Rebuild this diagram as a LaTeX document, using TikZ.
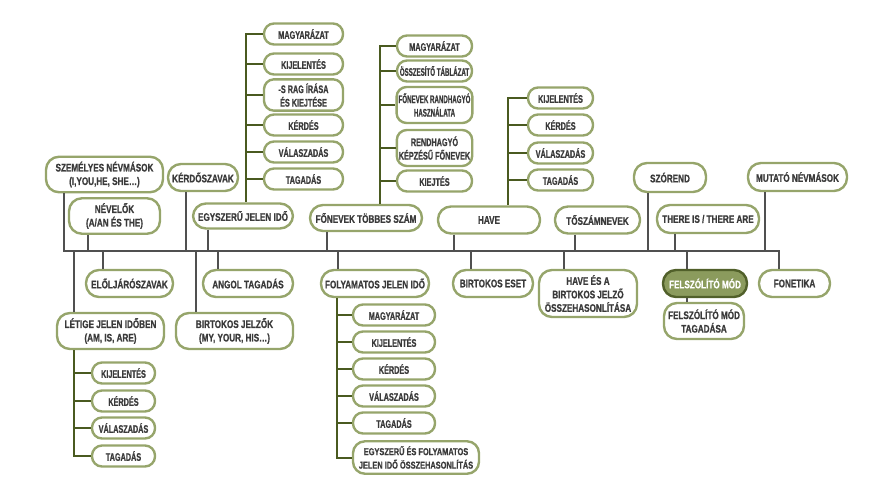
\documentclass[tikz,border=0pt]{standalone}
\usepackage{fontspec}
\newfontfamily\topfont[FakeStretch=0.74, FakeBold=0.8]{Liberation Sans Bold}
\newfontfamily\itemfont[FakeStretch=0.66, FakeBold=0.8]{Liberation Sans Bold}
\newfontfamily\narrowfont[FakeStretch=0.56, FakeBold=0.8]{Liberation Sans Bold}

\definecolor{boxgreen}{HTML}{96A56B}
\definecolor{twiggreen}{HTML}{4A5A20}
\definecolor{trunkgray}{HTML}{505050}
\definecolor{textgray}{HTML}{3A3A3A}
\definecolor{activefill}{HTML}{8B9B5D}
\definecolor{activeline}{HTML}{51602A}

\tikzset{
  topic/.style={draw=boxgreen, line width=2.4pt, fill=white, rounded corners=13pt,
    text=textgray, align=center, inner xsep=2pt, inner ysep=5pt,
    font=\topfont\fontsize{11}{13.5}\selectfont},
  subtopic/.style={topic, rounded corners=10pt, inner ysep=4pt, minimum height=21pt,
    font=\itemfont\fontsize{11}{13.5}\selectfont},
  plain/.style={},
  narrow/.style={font=\narrowfont\fontsize{11}{13.5}\selectfont},
  tall/.style={minimum height=36pt},
  narrowtall/.style={narrow, tall},
  smalltopic/.style={font=\topfont\fontsize{10}{13.5}\selectfont},
  chosen/.style={fill=activefill, draw=activeline, text=white},
  trunk/.style={draw=trunkgray, line width=1.6pt},
  twig/.style={draw=twiggreen, line width=2pt},
}

\begin{document}
\begin{tikzpicture}[x=1pt, y=-1pt]
  \def\spineY{251}
  \useasboundingbox (0,0) rectangle (888,500);

  % above the line
  \node[topic, minimum width=117pt, minimum height=35pt] (szem) at (104.5,174.5) {SZEMÉLYES NÉVMÁSOK\\(I,YOU,HE, SHE…)};
  \node[topic, minimum width=91pt, minimum height=34pt] (nev) at (114.5,216) {NÉVELŐK\\(A/AN ÉS THE)};
  \node[topic, minimum width=70pt, minimum height=27pt] (kerd) at (203,177.5) {KÉRDŐSZAVAK};
  \node[topic, minimum width=100pt, minimum height=25pt] (egy) at (243,216) {EGYSZERŰ JELEN IDŐ};
  \node[topic, minimum width=112pt, minimum height=26pt] (fon) at (366,218) {FŐNEVEK TÖBBES SZÁM};
  \node[topic, minimum width=102pt, minimum height=27pt] (have) at (489,220) {HAVE};
  \node[topic, minimum width=85pt, minimum height=27pt] (tosz) at (597.5,220) {TŐSZÁMNEVEK};
  \node[topic, minimum width=72pt, minimum height=29pt] (szor) at (670,177.5) {SZÓREND};
  \node[topic, minimum width=102pt, minimum height=28pt] (there) at (708,219) {THERE IS / THERE ARE};
  \node[topic, minimum width=99pt, minimum height=28pt] (mut) at (797.5,177) {MUTATÓ NÉVMÁSOK};

  % below the line
  \node[topic, minimum width=87pt, minimum height=27pt] (elo) at (129.5,283.5) {ELŐLJÁRÓSZAVAK};
  \node[topic, minimum width=90pt, minimum height=27pt] (ang) at (248,283.5) {ANGOL TAGADÁS};
  \node[topic, minimum width=107pt, minimum height=36pt] (let) at (110.5,331) {LÉTIGE JELEN IDŐBEN\\(AM, IS, ARE)};
  \node[topic, minimum width=117pt, minimum height=36pt] (bjel) at (234.5,331) {BIRTOKOS JELZŐK\\(MY, YOUR, HIS…)};
  \node[topic, minimum width=108pt, minimum height=27pt] (foly) at (375,283.5) {FOLYAMATOS JELEN IDŐ};
  \node[topic, minimum width=80pt, minimum height=27pt] (beset) at (493,283.5) {BIRTOKOS ESET};
  \node[topic, minimum width=98pt, minimum height=47pt] (hvs) at (588,293.5) {HAVE ÉS A\\BIRTOKOS JELZŐ\\ÖSSZEHASONLÍTÁSA};
  \node[topic, chosen, minimum width=84pt, minimum height=27pt] (felsz) at (705,283.5) {FELSZÓLÍTÓ MÓD};
  \node[topic, minimum width=71pt, minimum height=27pt] (fonet) at (794.5,283.5) {FONETIKA};
  \node[topic, minimum width=80pt, minimum height=36pt] (fneg) at (704,321) {FELSZÓLÍTÓ MÓD\\TAGADÁSA};

  % the line and its stems
  \coordinate (spL) at (64,\spineY);
  \coordinate (spR) at (779,\spineY);
  \draw[trunk, line cap=rect] (spL) -- (spR);
  \foreach \n/\x in {szem/64, nev/88, kerd/186, egy/208, fon/327, have/454, tosz/575, szor/648, there/675, mut/765}{
    \path (\x,\spineY) coordinate (j);
    \draw[trunk] (j |- \n.south) -- (j);
  }
  \foreach \n/\x in {let/74, elo/103, bjel/196, ang/218, foly/338, beset/471, hvs/564, felsz/687, fonet/779}{
    \path (\x,\spineY) coordinate (j);
    \draw[trunk] (j) -- (j |- \n.north);
  }
  \coordinate (felszX) at (687,0);
  \draw[trunk] (felszX |- felsz.south) -- (felszX |- fneg.north);

  % sub-lists
  \coordinate (egyX) at (246,0);
  \foreach \t/\y [count=\i] in {MAGYARÁZAT/34, KIJELENTÉS/64, {-S RAG ÍRÁSA\\ÉS KIEJTÉSE}/95, KÉRDÉS/125, VÁLASZADÁS/152, TAGADÁS/179}
    \node[subtopic, minimum width=79pt] (egy\i) at (303.5,\y) {\t};
  \draw[twig] (egy1.west) -| (egyX |- egy.north);
  \foreach \i in {2,...,6}
    \draw[twig] (egy\i.west) -- (egy\i.west -| egyX);

  \coordinate (fonX) at (380,0);
  \foreach \t/\y/\s [count=\i] in {MAGYARÁZAT/46/plain, {ÖSSZESÍTŐ TÁBLÁZAT}/71/narrow, {FŐNEVEK RANDHAGYÓ\\HASZNÁLATA}/105/narrowtall, {RENDHAGYÓ\\KÉPZÉSŰ FŐNEVEK}/148/tall, KIEJTÉS/181/plain}
    \node[subtopic, minimum width=75pt, \s] (fon\i) at (434.5,\y) {\t};
  \draw[twig] (fon1.west) -| (fonX |- fon.north);
  \foreach \i in {2,...,5}
    \draw[twig] (fon\i.west) -- (fon\i.west -| fonX);

  \coordinate (haveX) at (508,0);
  \foreach \t/\y [count=\i] in {KIJELENTÉS/98, KÉRDÉS/125, VÁLASZADÁS/153, TAGADÁS/180}
    \node[subtopic, minimum width=65pt] (have\i) at (560.5,\y) {\t};
  \draw[twig] (have1.west) -| (haveX |- have.north);
  \foreach \i in {2,...,4}
    \draw[twig] (have\i.west) -- (have\i.west -| haveX);

  \coordinate (letX) at (74,0);
  \foreach \t/\y [count=\i] in {KIJELENTÉS/373, KÉRDÉS/401, VÁLASZADÁS/428, TAGADÁS/456}
    \node[subtopic, minimum width=63pt] (let\i) at (123.5,\y) {\t};
  \draw[twig] (letX |- let.south) |- (let4.west);
  \foreach \i in {1,...,3}
    \draw[twig] (let\i.west) -- (let\i.west -| letX);

  \coordinate (folyX) at (337,0);
  \foreach \t/\y [count=\i] in {MAGYARÁZAT/315, KIJELENTÉS/342, KÉRDÉS/369, VÁLASZADÁS/396, TAGADÁS/423}
    \node[subtopic, minimum width=82pt] (foly\i) at (394,\y) {\t};
  \node[topic, smalltopic, rounded corners=12pt, minimum width=126pt, minimum height=31pt] (foly6) at (416,457.5) {EGYSZERŰ ÉS FOLYAMATOS\\JELEN IDŐ ÖSSZEHASONLÍTÁS};
  \draw[twig] (folyX |- foly.south) |- (foly6.west);
  \foreach \i in {1,...,5}
    \draw[twig] (foly\i.west) -- (foly\i.west -| folyX);
\end{tikzpicture}
\end{document}
